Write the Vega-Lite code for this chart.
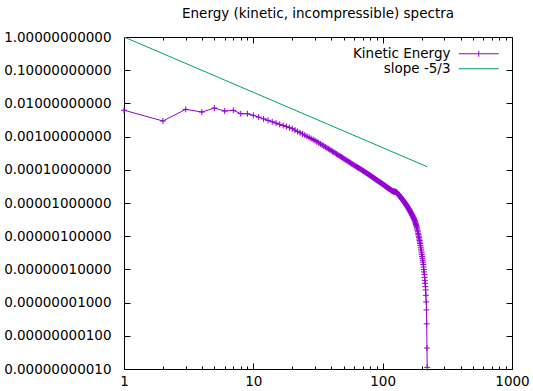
{
"$schema": "https://vega.github.io/schema/vega-lite/v6.json",
"width": 388, "height": 332,
"autosize": "none",
"padding": {"left": 124, "top": 37, "right": 21, "bottom": 22},
"background": "white",
"config": {
 "font": "DejaVu Sans",
 "view": {"stroke": "black", "strokeWidth": 1},
 "axis": {"grid": false, "domain": false, "labelFont": "DejaVu Sans", "labelFontSize": 13.5, "labelColor": "black", "tickColor": "black", "tickWidth": 1, "labelOverlap": false, "labelFlush": false, "title": null}
},
"title": {"text": "Energy (kinetic, incompressible) spectra", "fontSize": 13.5, "fontWeight": "normal", "color": "black", "font": "DejaVu Sans", "offset": 10},
"datasets": {
 "slope": [{"k": 1, "E": 1}, {"k": 221, "E": 1.238e-4}],
 "ke": [
{"k":1,"E":6.24e-3},{"k":2,"E":2.95e-3},{"k":3,"E":6.61e-3},{"k":4,"E":5.50e-3},{"k":5,"E":7.24e-3},{"k":6,"E":5.89e-3},{"k":7,"E":6.17e-3},{"k":8,"E":4.90e-3},{"k":9,"E":4.87e-3},{"k":10,"E":4.37e-3},
{"k":11,"E":3.85e-3},{"k":12,"E":3.43e-3},{"k":13,"E":3.08e-3},{"k":14,"E":2.79e-3},{"k":15,"E":2.55e-3},{"k":16,"E":2.34e-3},{"k":17,"E":2.16e-3},{"k":18,"E":2.00e-3},{"k":19,"E":1.86e-3},{"k":20,"E":1.74e-3},
{"k":21,"E":1.57e-3},{"k":22,"E":1.43e-3},{"k":23,"E":1.31e-3},{"k":24,"E":1.20e-3},{"k":25,"E":1.10e-3},{"k":26,"E":1.02e-3},{"k":27,"E":9.42e-4},{"k":28,"E":8.73e-4},{"k":29,"E":8.13e-4},{"k":30,"E":7.59e-4},
{"k":31,"E":7.01e-4},{"k":32,"E":6.50e-4},{"k":33,"E":6.04e-4},{"k":34,"E":5.61e-4},{"k":35,"E":5.24e-4},{"k":36,"E":4.90e-4},{"k":37,"E":4.58e-4},{"k":38,"E":4.30e-4},{"k":39,"E":4.04e-4},{"k":40,"E":3.80e-4},
{"k":41,"E":3.57e-4},{"k":42,"E":3.37e-4},{"k":43,"E":3.18e-4},{"k":44,"E":3.00e-4},{"k":45,"E":2.84e-4},{"k":46,"E":2.69e-4},{"k":47,"E":2.55e-4},{"k":48,"E":2.42e-4},{"k":49,"E":2.30e-4},{"k":50,"E":2.19e-4},
{"k":51,"E":2.08e-4},{"k":52,"E":1.98e-4},{"k":53,"E":1.89e-4},{"k":54,"E":1.80e-4},{"k":55,"E":1.72e-4},{"k":56,"E":1.64e-4},{"k":57,"E":1.57e-4},{"k":58,"E":1.50e-4},{"k":59,"E":1.44e-4},{"k":60,"E":1.38e-4},
{"k":61,"E":1.33e-4},{"k":62,"E":1.28e-4},{"k":63,"E":1.23e-4},{"k":64,"E":1.18e-4},{"k":65,"E":1.14e-4},{"k":66,"E":1.10e-4},{"k":67,"E":1.06e-4},{"k":68,"E":1.02e-4},{"k":69,"E":9.89e-5},{"k":70,"E":9.55e-5},
{"k":71,"E":9.20e-5},{"k":72,"E":8.87e-5},{"k":73,"E":8.57e-5},{"k":74,"E":8.28e-5},{"k":75,"E":7.98e-5},{"k":76,"E":7.73e-5},{"k":77,"E":7.46e-5},{"k":78,"E":7.21e-5},{"k":79,"E":6.98e-5},{"k":80,"E":6.76e-5},
{"k":81,"E":6.53e-5},{"k":82,"E":6.32e-5},{"k":83,"E":6.11e-5},{"k":84,"E":5.92e-5},{"k":85,"E":5.73e-5},{"k":86,"E":5.55e-5},{"k":87,"E":5.37e-5},{"k":88,"E":5.21e-5},{"k":89,"E":5.05e-5},{"k":90,"E":4.90e-5},
{"k":91,"E":4.75e-5},{"k":92,"E":4.62e-5},{"k":93,"E":4.50e-5},{"k":94,"E":4.37e-5},{"k":95,"E":4.25e-5},{"k":96,"E":4.13e-5},{"k":97,"E":4.03e-5},{"k":98,"E":3.92e-5},{"k":99,"E":3.82e-5},{"k":100,"E":3.72e-5},
{"k":101,"E":3.61e-5},{"k":102,"E":3.51e-5},{"k":103,"E":3.41e-5},{"k":104,"E":3.32e-5},{"k":105,"E":3.23e-5},{"k":106,"E":3.14e-5},{"k":107,"E":3.05e-5},{"k":108,"E":2.97e-5},{"k":109,"E":2.90e-5},{"k":110,"E":2.82e-5},
{"k":111,"E":2.75e-5},{"k":112,"E":2.69e-5},{"k":113,"E":2.63e-5},{"k":114,"E":2.57e-5},{"k":115,"E":2.51e-5},{"k":116,"E":2.45e-5},{"k":117,"E":2.40e-5},{"k":118,"E":2.34e-5},{"k":119,"E":2.29e-5},{"k":120,"E":2.26e-5},
{"k":121,"E":2.24e-5},{"k":122,"E":2.21e-5},{"k":123,"E":2.19e-5},{"k":124,"E":2.19e-5},{"k":125,"E":2.20e-5},{"k":126,"E":2.16e-5},{"k":127,"E":2.14e-5},{"k":128,"E":2.09e-5},{"k":129,"E":2.04e-5},{"k":130,"E":1.95e-5},
{"k":131,"E":1.88e-5},{"k":132,"E":1.82e-5},{"k":133,"E":1.76e-5},{"k":134,"E":1.70e-5},{"k":135,"E":1.64e-5},{"k":136,"E":1.58e-5},{"k":137,"E":1.53e-5},{"k":138,"E":1.48e-5},{"k":139,"E":1.43e-5},{"k":140,"E":1.38e-5},
{"k":141,"E":1.33e-5},{"k":142,"E":1.28e-5},{"k":143,"E":1.24e-5},{"k":144,"E":1.19e-5},{"k":145,"E":1.15e-5},{"k":146,"E":1.11e-5},{"k":147,"E":1.07e-5},{"k":148,"E":1.03e-5},{"k":149,"E":9.91e-6},{"k":150,"E":9.55e-6},
{"k":151,"E":9.18e-6},{"k":152,"E":8.83e-6},{"k":153,"E":8.49e-6},{"k":154,"E":8.17e-6},{"k":155,"E":7.85e-6},{"k":156,"E":7.55e-6},{"k":157,"E":7.26e-6},{"k":158,"E":6.98e-6},{"k":159,"E":6.71e-6},{"k":160,"E":6.46e-6},
{"k":161,"E":6.18e-6},{"k":162,"E":5.92e-6},{"k":163,"E":5.66e-6},{"k":164,"E":5.42e-6},{"k":165,"E":5.19e-6},{"k":166,"E":4.97e-6},{"k":167,"E":4.75e-6},{"k":168,"E":4.55e-6},{"k":169,"E":4.36e-6},{"k":170,"E":4.17e-6},
{"k":171,"E":3.97e-6},{"k":172,"E":3.78e-6},{"k":173,"E":3.60e-6},{"k":174,"E":3.43e-6},{"k":175,"E":3.27e-6},{"k":176,"E":3.10e-6},{"k":177,"E":2.96e-6},{"k":178,"E":2.82e-6},{"k":179,"E":2.61e-6},{"k":180,"E":2.42e-6},
{"k":181,"E":2.24e-6},{"k":182,"E":2.08e-6},{"k":183,"E":1.93e-6},{"k":184,"E":1.79e-6},{"k":185,"E":1.66e-6},{"k":186,"E":1.50e-6},{"k":187,"E":1.36e-6},{"k":188,"E":1.22e-6},{"k":189,"E":1.11e-6},{"k":190,"E":1.00e-6},
{"k":191,"E":9.04e-7},{"k":192,"E":8.17e-7},{"k":193,"E":7.38e-7},{"k":194,"E":6.67e-7},{"k":195,"E":6.03e-7},{"k":196,"E":5.30e-7},{"k":197,"E":4.66e-7},{"k":198,"E":4.09e-7},{"k":199,"E":3.60e-7},{"k":200,"E":3.16e-7},
{"k":201,"E":2.78e-7},{"k":202,"E":2.44e-7},{"k":203,"E":2.15e-7},{"k":204,"E":1.89e-7},{"k":205,"E":1.66e-7},{"k":206,"E":1.40e-7},{"k":207,"E":1.18e-7},{"k":208,"E":9.95e-8},{"k":209,"E":8.39e-8},{"k":210,"E":7.08e-8},
{"k":211,"E":5.75e-8},{"k":212,"E":4.68e-8},{"k":213,"E":3.80e-8},{"k":214,"E":3.02e-8},{"k":215,"E":2.40e-8},{"k":216,"E":1.66e-8},{"k":217,"E":1.05e-8},{"k":218,"E":6.03e-9},{"k":219,"E":2.29e-9},{"k":220,"E":4.27e-10},
{"k":221,"E":1.12e-10}
 ]
},
"layer": [
 {
  "data": {"name": "slope"},
  "mark": {"type": "line", "strokeWidth": 1, "clip": true},
  "encoding": {
   "x": {"field": "k", "type": "quantitative", "scale": {"type": "log", "domain": [1, 1000], "nice": false},
    "axis": {"orient": "bottom", "values": [1,2,3,4,5,6,7,8,9,10,20,30,40,50,60,70,80,90,100,200,300,400,500,600,700,800,900,1000],
     "format": "d", "labelExpr": "(datum.value==1||datum.value==10||datum.value==100||datum.value==1000) ? datum.label : ''",
     "tickSize": {"condition": {"test": "datum.value==1||datum.value==10||datum.value==100||datum.value==1000", "value": -6}, "value": -3},
     "labelPadding": 11}},
   "y": {"field": "E", "type": "quantitative", "scale": {"type": "log", "domain": [1e-10, 1], "nice": false},
    "axis": {"orient": "left", "values": [1e-10,1e-9,1e-8,1e-7,1e-6,1e-5,1e-4,1e-3,1e-2,1e-1,1], "format": ".11f", "tickSize": -6, "labelPadding": 19}},
   "color": {"datum": "slope -5/3", "scale": {"domain": ["Kinetic Energy", "slope -5/3"], "range": ["#9400d3", "#009e73"]},
    "legend": {"orient": "none", "legendX": 348, "legendY": 10, "title": null, "labelAlign": "right", "labelOffset": -35,
     "labelFontSize": 13.5, "labelColor": "black", "labelFont": "DejaVu Sans", "symbolSize": 100, "symbolStrokeWidth": 1,
     "rowPadding": 0, "symbolType": "M-4,0H4",
     "encode": {"symbols": {"update": {"shape": {"signal": "datum.value === 'Kinetic Energy' ? 'M-4,0H4M0,-0.6V0.6' : 'M-4,0H4'"}}}}}}
  }
 },
 {
  "data": {"name": "ke"},
  "mark": {"type": "line", "strokeWidth": 1},
  "encoding": {
   "x": {"field": "k", "type": "quantitative", "scale": {"type": "log", "domain": [1, 1000], "nice": false},
    "axis": {"orient": "top", "values": [1,2,3,4,5,6,7,8,9,10,20,30,40,50,60,70,80,90,100,200,300,400,500,600,700,800,900,1000], "labels": false,
     "tickSize": {"condition": {"test": "datum.value==1||datum.value==10||datum.value==100||datum.value==1000", "value": -6}, "value": -3}}},
   "y": {"field": "E", "type": "quantitative", "scale": {"type": "log", "domain": [1e-10, 1], "nice": false},
    "axis": {"orient": "right", "values": [1e-10,1e-9,1e-8,1e-7,1e-6,1e-5,1e-4,1e-3,1e-2,1e-1,1], "labels": false, "tickSize": -6}},
   "color": {"datum": "Kinetic Energy"}
  }
 },
 {
  "data": {"name": "ke"},
  "mark": {"type": "point", "shape": "M-1,0H1M0,-1V1", "size": 36, "filled": false, "strokeWidth": 1, "opacity": 1, "color": "#9400d3"},
  "encoding": {
   "x": {"field": "k", "type": "quantitative", "axis": null},
   "y": {"field": "E", "type": "quantitative", "axis": null}
  }
 }
],
"resolve": {"axis": {"x": "independent", "y": "independent"}}
}
